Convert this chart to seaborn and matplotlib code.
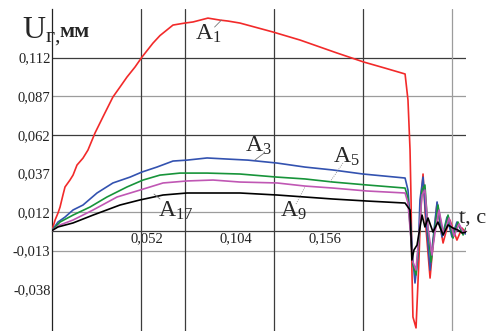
import numpy as np
import pandas as pd
import seaborn as sns
import matplotlib.pyplot as plt
from matplotlib.transforms import ScaledTranslation

# --- data (t in s, U in mm) ---
t_a1 = [0, 0.0018, 0.0035, 0.0047, 0.0064, 0.0076, 0.0105, 0.0123, 0.0146, 0.0181,
        0.0210, 0.0251, 0.0304, 0.0356, 0.0397, 0.0438, 0.0485, 0.0526, 0.0590, 0.0631,
        0.0707, 0.0777, 0.0824, 0.0911, 0.0982, 0.1028, 0.1098, 0.1291, 0.1449, 0.1665,
        0.1823, 0.1946, 0.2063, 0.2080, 0.2092, 0.2098, 0.2103, 0.2109, 0.2127, 0.2144,
        0.2156, 0.2168, 0.2186, 0.2209, 0.2226, 0.2250, 0.2267, 0.2285, 0.2308, 0.2325,
        0.2349, 0.2366, 0.2396, 0.2419]
u_a1 = [0, 0.0068, 0.0113, 0.0152, 0.0230, 0.0282, 0.0327, 0.0359, 0.0424, 0.0469,
        0.0521, 0.0631, 0.0750, 0.0865, 0.0929, 0.0994, 0.1059, 0.1124, 0.1214, 0.1263,
        0.1331, 0.1344, 0.1351, 0.1376, 0.1363, 0.1357, 0.1344, 0.1286, 0.1234, 0.1150,
        0.1091, 0.1052, 0.1014, 0.0845, 0.0521, 0.0198, -0.0256, -0.0560, -0.0631, -0.0191,
        0.0198, 0.0366, 0.0003, -0.0308, -0.0094, 0.0178, 0.0036, -0.0081, 0.0016, 0.0068,
        -0.0010, -0.0062, 0.0016, -0.0016]

t_a3 = [0, 0.0035, 0.0076, 0.0123, 0.0181, 0.0263, 0.0356, 0.0456, 0.0526, 0.0613,
        0.0707, 0.0789, 0.0906, 0.1022, 0.1145, 0.1315, 0.1478, 0.1642, 0.1817, 0.2063,
        0.2080, 0.2098, 0.2109, 0.2121, 0.2139, 0.2150, 0.2168, 0.2186, 0.2209, 0.2226,
        0.2250, 0.2279, 0.2308, 0.2337, 0.2366, 0.2396, 0.2419]
u_a3 = [0, 0.0055, 0.0087, 0.0133, 0.0165, 0.0243, 0.0308, 0.0346, 0.0379, 0.0411,
        0.0450, 0.0456, 0.0470, 0.0463, 0.0456, 0.0437, 0.0411, 0.0392, 0.0366, 0.0340,
        0.0262, 0.0003, -0.0191, -0.0340, -0.0159, 0.0198, 0.0346, 0.0068, -0.0256, -0.0062,
        0.0185, -0.0042, 0.0087, -0.0042, 0.0055, -0.0010, -0.0023]

t_a5 = [0, 0.0047, 0.0123, 0.0222, 0.0321, 0.0438, 0.0532, 0.0631, 0.0748, 0.0906,
        0.1098, 0.1315, 0.1478, 0.1642, 0.1840, 0.2063, 0.2080, 0.2092, 0.2109, 0.2127,
        0.2144, 0.2162, 0.2179, 0.2197, 0.2215, 0.2232, 0.2255, 0.2285, 0.2314, 0.2343,
        0.2372, 0.2402, 0.2419]
u_a5 = [0, 0.0055, 0.0100, 0.0152, 0.0217, 0.0282, 0.0327, 0.0359, 0.0372, 0.0372,
        0.0366, 0.0346, 0.0334, 0.0314, 0.0295, 0.0275, 0.0211, 0.0036, -0.0223, -0.0288,
        -0.0062, 0.0262, 0.0295, 0.0003, -0.0204, -0.0029, 0.0165, -0.0029, 0.0100, -0.0049,
        0.0055, -0.0029, 0.0016]

t_a9 = [0, 0.0047, 0.0123, 0.0240, 0.0380, 0.0514, 0.0649, 0.0789, 0.0941, 0.1098,
        0.1315, 0.1478, 0.1642, 0.1840, 0.2063, 0.2080, 0.2092, 0.2109, 0.2127, 0.2144,
        0.2162, 0.2179, 0.2197, 0.2220, 0.2238, 0.2261, 0.2290, 0.2320, 0.2349, 0.2378,
        0.2407, 0.2419]
u_a9 = [0, 0.0036, 0.0068, 0.0133, 0.0217, 0.0262, 0.0308, 0.0321, 0.0327, 0.0314,
        0.0308, 0.0288, 0.0275, 0.0256, 0.0243, 0.0178, 0.0016, -0.0204, -0.0256, -0.0029,
        0.0230, 0.0262, 0.0016, -0.0159, -0.0010, 0.0133, -0.0029, 0.0081, -0.0036, 0.0042,
        -0.0016, 0.0003]

t_a17 = [0, 0.0035, 0.0123, 0.0240, 0.0397, 0.0514, 0.0649, 0.0789, 0.0941, 0.1098,
         0.1315, 0.1478, 0.1642, 0.1840, 0.2063, 0.2092, 0.2103, 0.2115, 0.2133, 0.2162,
         0.2179, 0.2197, 0.2226, 0.2255, 0.2285, 0.2314, 0.2343, 0.2372, 0.2396, 0.2419]
u_a17 = [0, 0.0023, 0.0049, 0.0100, 0.0165, 0.0198, 0.0230, 0.0243, 0.0243, 0.0243,
         0.0230, 0.0217, 0.0204, 0.0191, 0.0178, 0.0133, -0.0191, -0.0126, -0.0094, 0.0100,
         0.0023, 0.0081, -0.0010, 0.0055, -0.0029, 0.0036, 0.0016, 0.0003, -0.0016, -0.0010]

y_ticks = [0.112, 0.087, 0.062, 0.037, 0.012, -0.013, -0.038]
x_ticks = [0.052, 0.104, 0.156]
h_grid = [0.112, 0.087, 0.062, 0.012, -0.013]
v_grid = [0.052, 0.078, 0.130, 0.182, 0.234]

series = [
    (t_a1, u_a1, '#f22a2a'),
    (t_a3, u_a3, '#3352b0'),
    (t_a5, u_a5, '#17943a'),
    (t_a9, u_a9, '#c057b4'),
    (t_a17, u_a17, '#000000'),
]

# --- style ---
sns.set_style('white')
plt.rcParams['font.family'] = ['Liberation Serif', 'DejaVu Serif']
plt.rcParams['mathtext.fontset'] = 'custom'
plt.rcParams['mathtext.rm'] = 'Liberation Serif'
plt.rcParams['mathtext.it'] = 'Liberation Serif:italic'
plt.rcParams['mathtext.bf'] = 'Liberation Serif:bold'

fig = plt.figure(figsize=(4.93, 3.31), dpi=100)
ax = fig.add_axes([52 / 493, 0.0, 414 / 493, 1 - 9 / 331])

# grid
dark, light = '#3c3c3c', '#9c9c9c'
for v in h_grid:
    ax.axhline(v, color=dark if v in (0.112, 0.062) else light, lw=0.9, zorder=1)
for v in v_grid:
    ax.axvline(v, color=light if v == 0.234 else dark, lw=0.9, zorder=1)

# curves
for t, u, c in series:
    sns.lineplot(x=t, y=u, sort=False, estimator=None, color=c, lw=1.2, ax=ax, zorder=3)

ax.set_xlim(0, 0.2419)
ax.set_ylim(-0.0651, 0.1435)

for s in ['top', 'right']:
    ax.spines[s].set_visible(False)
ax.spines['bottom'].set_position(('data', 0))
ax.spines['bottom'].set_color(dark)
ax.spines['bottom'].set_linewidth(0.9)
ax.spines['left'].set_color('#222222')
ax.spines['left'].set_linewidth(0.9)

ax.set_yticks(y_ticks)
ax.set_yticklabels([f'{v:.3f}'.replace('.', ',') for v in y_ticks])
ax.set_xticks(x_ticks)
ax.set_xticklabels([f'{v:.3f}'.replace('.', ',') for v in x_ticks])
ax.tick_params(axis='both', length=0, labelsize=10.5, colors='#222222')
ax.tick_params(axis='y', pad=1)
ax.tick_params(axis='x', pad=1.5)
offset = ScaledTranslation(4 / 72, 0, fig.dpi_scale_trans)
for lab in ax.get_xticklabels():
    lab.set_transform(lab.get_transform() + offset)
ax.set_xlabel('')
ax.set_ylabel('')

# curve labels with leader lines
labels = [
    ('A', '1', 0.0836, 0.1234, (0.0950, 0.1318), (0.0990, 0.1363), '-'),
    ('A', '3', 0.1128, 0.0508, (0.1240, 0.0502), (0.1185, 0.0456), '-'),
    ('A', '5', 0.1642, 0.0437, (0.1700, 0.0437), (0.1624, 0.0314), ':'),
    ('A', '9', 0.1332, 0.0087, (0.1426, 0.0172), (0.1478, 0.0282), ':'),
    ('A', '17', 0.0619, 0.0087, (0.0631, 0.0204), (0.0596, 0.0236), '-'),
]
for a, sub, tx, ty, p0, p1, ls in labels:
    ax.text(tx, ty, r'$\mathrm{' + a + r'}_{\mathrm{' + sub + r'}}$', fontsize=17,
            ha='left', va='baseline', zorder=4)
    ax.plot([p0[0], p1[0]], [p0[1], p1[1]], color='#777777', lw=0.6, ls=ls, zorder=4)

# axis titles
fig.text(22 / 493, 1 - 38 / 331, r'$\mathrm{U}_{\mathrm{г,}}$', fontsize=23,
         ha='left', va='baseline')
fig.text(59 / 493, 1 - 37 / 331, 'мм', fontsize=16, fontweight='bold',
         ha='left', va='baseline')
ax.text(0.2378, 0.0049, 't, с', fontsize=16, ha='left', va='baseline')

fig.savefig('out.png', dpi=100)
